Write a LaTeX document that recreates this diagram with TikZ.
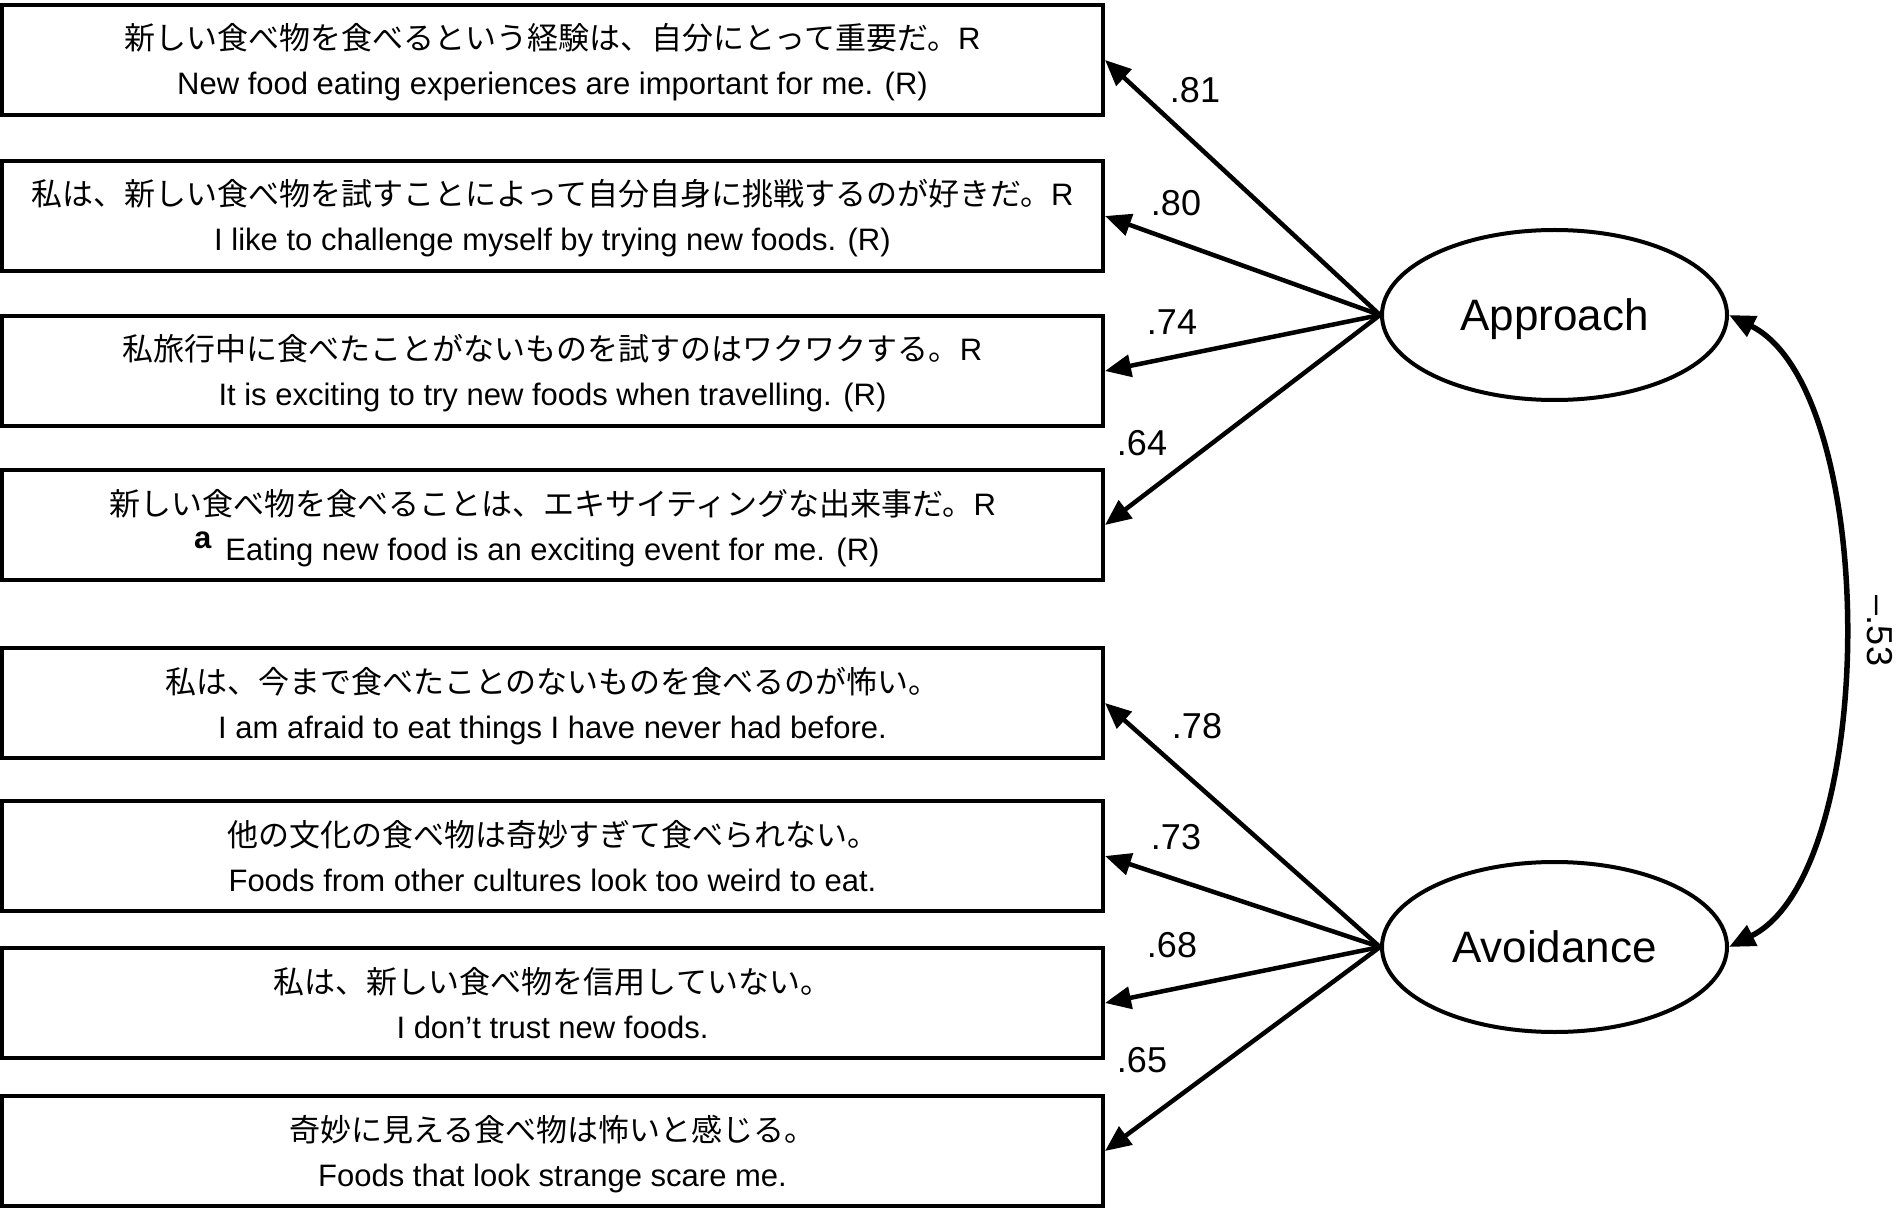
\documentclass[tikz,border=0pt]{standalone}
\usepackage{fontspec}
\setmainfont{Liberation Sans}
\newfontfamily\jp{Noto Sans CJK JP}
\usetikzlibrary{arrows.meta,shapes.geometric,positioning}
\newcommand*{\jline}[1]{\rule{0pt}{16pt}{\jp #1}}
\newcommand*{\eline}[1]{\rule[-3.5pt]{0pt}{3.5pt}#1}

\begin{document}
\begin{tikzpicture}[->, >={Triangle[length=13pt,width=11pt]}, x=0.5pt, y=-0.5pt, line width=2.25pt]
    \tikzstyle{item}=[draw, rectangle, line width=2pt, minimum width=550.5pt, minimum height=55pt, inner sep=0pt, align=center, font=\fontsize{15.5}{22.5}\selectfont]
    \tikzstyle{factor}=[draw, ellipse, line width=2pt, minimum width=172.5pt, minimum height=85pt, inner sep=0pt, text depth=0pt, font=\fontsize{22}{26}\selectfont]
    \tikzstyle{weight}=[inner sep=0pt, font=\fontsize{18}{22}\selectfont]
    \useasboundingbox (0,0) rectangle (1896,1208);
    % items
    \node[item] (b1) at (552.5,60)   {\jline{新しい食べ物を食べるという経験は、自分にとって重要だ。}R\\\eline{New food eating experiences are important for me. (R)}};
    \node[item] (b2) at (552.5,216)  {\jline{私は、新しい食べ物を試すことによって自分自身に挑戦するのが好きだ。}R\\\eline{I like to challenge myself by trying new foods. (R)}};
    \node[item] (b3) at (552.5,371)  {\jline{私旅行中に食べたことがないものを試すのはワクワクする。}R\\\eline{It is exciting to try new foods when travelling. (R)}};
    \node[item] (b4) at (552.5,525)  {\jline{新しい食べ物を食べることは、エキサイティングな出来事だ。}R\\\eline{\llap{\raisebox{6pt}{\bfseries a}\hspace{7pt}}Eating new food is an exciting event for me. (R)}};
    \node[item] (b5) at (552.5,703)  {\jline{私は、今まで食べたことのないものを食べるのが怖い。}\\\eline{I am afraid to eat things I have never had before.}};
    \node[item] (b6) at (552.5,856)  {\jline{他の文化の食べ物は奇妙すぎて食べられない。}\\\eline{Foods from other cultures look too weird to eat.}};
    \node[item] (b7) at (552.5,1003) {\jline{私は、新しい食べ物を信用していない。}\\\eline{I don’t trust new foods.}};
    \node[item] (b8) at (552.5,1151) {\jline{奇妙に見える食べ物は怖いと感じる。}\\\eline{Foods that look strange scare me.}};
    % factors
    \node[factor] (app) at (1554.5,315) {Approach};
    \node[factor] (avo) at (1554.5,947) {Avoidance};
    \path
    (app.west) edge (b1.east)
    edge (b2.east)
    edge (b3.east)
    edge (b4.east)
    (avo.west) edge (b5.east)
    edge (b6.east)
    edge (b7.east)
    edge (b8.east);
    \draw[<->, line width=2.75pt] (app.east) .. controls (1880,390) and (1880,872) .. (avo.east);
    % loadings
    \node[weight] (w1) at (1195,90)   {.81};
    \node[weight] (w2) at (1176,203)  {.80};
    \node[weight] (w3) at (1172,322)  {.74};
    \node[weight] (w4) at (1142,443)  {.64};
    \node[weight] (w5) at (1197,726)  {.78};
    \node[weight] (w6) at (1176,837)  {.73};
    \node[weight] (w7) at (1172,945)  {.68};
    \node[weight] (w8) at (1142,1060) {.65};
    \node[weight, rotate=-90] (r) at (1880,631) {--.53};
\end{tikzpicture}
\end{document}
